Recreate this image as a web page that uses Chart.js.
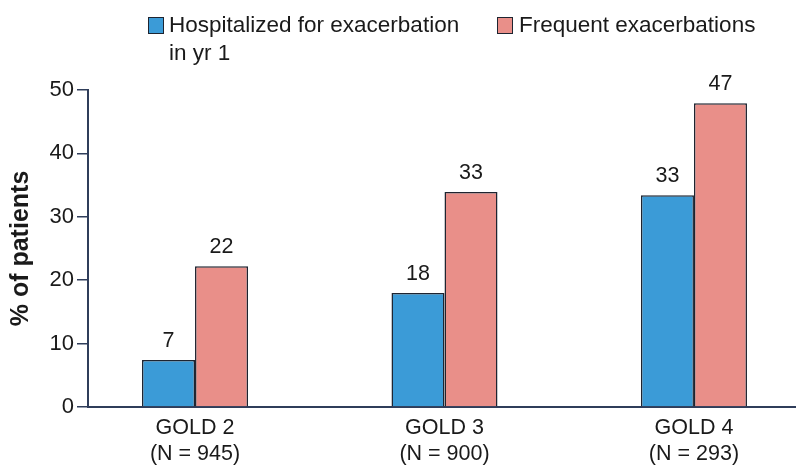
<!DOCTYPE html>
<html>
<head>
<meta charset="utf-8">
<script src="https://cdn.jsdelivr.net/npm/chart.js@4.4.1/dist/chart.umd.min.js"></script>
<style>
    body { margin: 0; background: #fff; }
    #wrap { position: relative; width: 796px; height: 465px; font-family: "Liberation Sans", Arial, sans-serif; color: #1a1a1a; }
    #chart { position: absolute; left: 0; top: 0; }
    .lg { position: absolute; font-size: 22.5px; line-height: 28px; }
    .box { position: absolute; width: 14px; height: 15px; border: 1.5px solid #1e2430; }
</style>
</head>
<body>
<div id="wrap">
    <canvas id="chart" width="796" height="465"></canvas>
    <div class="box" style="left:148px; top:17px; background:#3b9bd7;"></div>
    <div class="lg" style="left:169px; top:11px;">Hospitalized for exacerbation<br>in yr 1</div>
    <div class="box" style="left:497px; top:17px; background:#e98f89;"></div>
    <div class="lg" style="left:519px; top:11px;">Frequent exacerbations</div>
</div>
<script>
// categories and values
const categories = [["GOLD 2", "(N = 945)"], ["GOLD 3", "(N = 900)"], ["GOLD 4", "(N = 293)"]];
const hospitalized = [7.4, 18.0, 33.4];
const frequent = [22.2, 33.9, 47.9];
const hospitalizedLabels = ["7", "18", "33"];
const frequentLabels = ["22", "33", "47"];
const yTicks = [0, 10, 20, 30, 40, 50];

const axisColor = '#2f3d5a';
const fontFamily = '"Liberation Sans", Arial, sans-serif';

const toPoints = (arr) => arr.map((v, i) => ({ x: i, y: v }));

// draw the number over each bar
const valueLabels = {
    id: 'valueLabels',
    afterDatasetsDraw(chart) {
        const ctx = chart.ctx;
        ctx.save();
        ctx.font = '21.5px ' + fontFamily;
        ctx.fillStyle = '#1a1a1a';
        ctx.textAlign = 'center';
        ctx.textBaseline = 'bottom';
        chart.data.datasets.forEach((ds, di) => {
            const meta = chart.getDatasetMeta(di);
            meta.data.forEach((bar, i) => {
                ctx.fillText(ds.valueText[i], bar.x, bar.y - 8);
            });
        });
        ctx.restore();
    }
};

new Chart(document.getElementById('chart'), {
    type: 'bar',
    data: {
        datasets: [
            {
                label: 'Hospitalized for exacerbation in yr 1',
                data: toPoints(hospitalized),
                valueText: hospitalizedLabels,
                backgroundColor: '#3b9bd7',
                borderColor: '#1e2430',
                borderWidth: 1.5
            },
            {
                label: 'Frequent exacerbations',
                data: toPoints(frequent),
                valueText: frequentLabels,
                backgroundColor: '#e98f89',
                borderColor: '#1e2430',
                borderWidth: 1.5
            }
        ]
    },
    options: {
        responsive: false,
        animation: false,
        events: [],
        layout: { padding: { top: 90, right: 0, left: 0, bottom: 0 } },
        datasets: { bar: { categoryPercentage: 0.425, barPercentage: 1 } },
        plugins: { legend: { display: false }, tooltip: { enabled: false } },
        scales: {
            x: {
                type: 'linear',
                offset: false,
                min: -0.429,
                max: 2.409,
                afterBuildTicks: (scale) => { scale.ticks = categories.map((c, i) => ({ value: i })); },
                afterFit: (scale) => { scale.height = 58; },
                grid: { display: false, drawTicks: false, offset: false },
                border: { color: axisColor, width: 2 },
                ticks: {
                    color: '#1a1a1a',
                    font: { size: 21.5, family: fontFamily, lineHeight: 1.2 },
                    padding: 8,
                    maxRotation: 0,
                    autoSkip: false,
                    callback: (v) => categories[v]
                }
            },
            y: {
                min: 0,
                max: 50,
                afterBuildTicks: (scale) => { scale.ticks = yTicks.map(v => ({ value: v })); },
                afterFit: (scale) => { scale.width = 88; },
                grid: { drawOnChartArea: false, tickLength: 11, color: axisColor, lineWidth: 1.5 },
                border: { color: axisColor, width: 2 },
                ticks: {
                    color: '#1a1a1a',
                    font: { size: 22, family: fontFamily },
                    padding: 3
                },
                title: {
                    display: true,
                    text: '% of patients',
                    color: '#1a1a1a',
                    font: { size: 25, weight: 'bold', family: fontFamily },
                    padding: { top: 6, bottom: 0 }
                }
            }
        }
    },
    plugins: [valueLabels]
});
</script>
</body>
</html>
